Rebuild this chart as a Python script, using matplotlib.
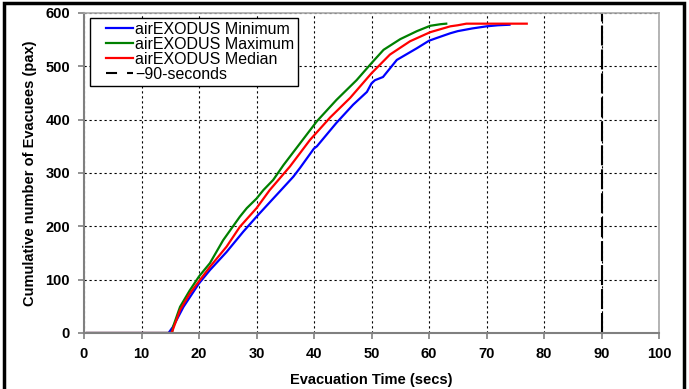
import matplotlib
matplotlib.use('Agg')
import matplotlib.pyplot as plt
from matplotlib.lines import Line2D
from matplotlib.legend_handler import HandlerLine2D
from matplotlib.patches import Rectangle

plt.rcParams['font.family'] = ['Liberation Sans', 'DejaVu Sans']

# cumulative evacuees (time in secs, count in pax)
min_t = [0.5, 14.7, 15.5, 17.3, 20.0, 21.9, 24.8, 27.7, 30.0, 32.9, 34.1, 36.4,
         37.6, 40.0, 40.5, 43.9, 46.8, 49.2, 50.0, 50.6, 52.0, 54.4, 57.9, 60.0,
         61.3, 63.7, 65.0, 67.5, 70.0, 72.0, 74.0]
min_v = [0, 0, 12, 49, 93, 118, 152, 190, 218, 252, 266, 293,
         310, 346, 350, 394, 428, 452, 468, 474, 480, 512, 534, 548,
         553, 562, 566, 571, 575, 577, 578]

max_t = [0.5, 15.3, 15.5, 16.7, 18.4, 20.0, 21.9, 24.2, 27.1, 28.3, 30.0, 31.2,
         32.9, 34.7, 37.6, 40.5, 43.9, 47.4, 50.0, 52.1, 55.0, 57.9, 60.2, 62.0,
         63.0]
max_v = [0, 0, 12, 49, 80, 106, 131, 174, 218, 234, 252, 268,
         287, 315, 356, 397, 437, 474, 506, 531, 551, 566, 576, 579,
         580]

med_t = [0.5, 15.25, 16.7, 18.4, 20.0, 21.9, 24.8, 27.1, 30.0, 32.3, 35.8,
         39.3, 42.8, 46.3, 50.0, 53.2, 56.7, 60.2, 63.7, 65.0, 66.5, 77.0]
med_v = [0, 0, 43, 74, 97, 124, 162, 199, 234, 268, 312,
         362, 404, 441, 487, 522, 547, 564, 575, 577, 580, 580]

limit_t = [90, 90]
limit_v = [0, 600]

x_ticks = list(range(0, 101, 10))
y_ticks = list(range(0, 601, 100))

fig = plt.figure(figsize=(6.89, 3.89), dpi=100)
ax = fig.add_axes([84 / 689, 56 / 389, 575 / 689, 320 / 389])

l_min, = ax.plot(min_t, min_v, color='#0000ff', lw=1.6, label='airEXODUS Minimum')
l_max, = ax.plot(max_t, max_v, color='#008000', lw=1.6, label='airEXODUS Maximum')
l_med, = ax.plot(med_t, med_v, color='#ff0000', lw=1.6, label='airEXODUS Median')
ax.plot(limit_t, limit_v, color='black', lw=1.5, dashes=(9.6, 1.9))
# legend swatch for the 90-second line is drawn with a shorter dash
l_lim = Line2D([], [], color='black', lw=1.5, dashes=(5.3, 4.8))

ax.set_xlim(0, 100)
ax.set_ylim(0, 600)
ax.set_xticks(x_ticks)
ax.set_yticks(y_ticks)
ax.grid(True, color='black', lw=0.8, linestyle=(0, (2, 2.5)))
ax.set_axisbelow(True)

for side in ['left', 'bottom']:
    ax.spines[side].set_color('#808080')
    ax.spines[side].set_linewidth(1.5)
for side in ['top', 'right']:
    ax.spines[side].set_color('#a8a8a8')
    ax.spines[side].set_linewidth(1.2)
ax.tick_params(direction='out', length=4, width=1.2, color='#808080',
               labelsize=10.5, pad=6)
for lab in ax.get_xticklabels() + ax.get_yticklabels():
    lab.set_fontweight('bold')

ax.set_xlabel('Evacuation Time (secs)', fontsize=10.5, fontweight='bold',
              labelpad=9)
ax.set_ylabel('Cumulative number of Evacuees (pax)', fontsize=10.5,
              fontweight='bold', labelpad=6)

leg = ax.legend([l_min, l_max, l_med, l_lim],
                ['airEXODUS Minimum', 'airEXODUS Maximum', 'airEXODUS Median',
                 '\u221290-seconds'],
                handler_map={Line2D: HandlerLine2D(xpad=0.75)},
                loc='upper left', bbox_to_anchor=(0.011, 0.985),
                fontsize=11.5, frameon=True, fancybox=False, framealpha=1,
                edgecolor='black', handlelength=2.4, handletextpad=0.15,
                labelspacing=0.0, borderpad=0.25, borderaxespad=0)
leg.get_frame().set_linewidth(1.0)

# outer frame round the whole picture
fig.patches.append(Rectangle((4 / 689, -0.05), 680 / 689, 1.05 - 3 / 389,
                             transform=fig.transFigure, fill=False,
                             edgecolor='black', lw=2.5))

fig.savefig('out.png', dpi=100)
